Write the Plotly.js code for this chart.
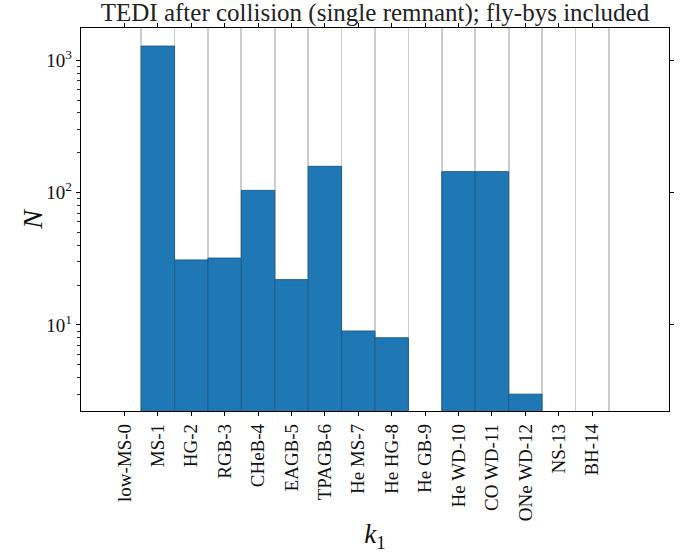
<!DOCTYPE html>
<html>
<head>
<meta charset="utf-8">
<script src="https://cdn.plot.ly/plotly-3.0.1.min.js"></script>
<style>html,body{margin:0;padding:0;background:#fff;}</style>
</head>
<body>
<div id="chart" style="width:695px;height:556px;"></div>
<script>
const categories = [0,1,2,3,4,5,6,7,8,9,10,11,12,13,14];
const tickLabels = ["low-MS-0","MS-1","HG-2","RGB-3","CHeB-4","EAGB-5","TPAGB-6","He MS-7","He HG-8","He GB-9","He WD-10","CO WD-11","ONe WD-12","NS-13","BH-14"];
const counts = [0,1280,31,32,104,22,158,9,8,0,144,144,3,0,0];
const binEdges = [0.5,1.5,2.5,3.5,4.5,5.5,6.5,7.5,8.5,9.5,10.5,11.5,12.5,13.5,14.5];

const minorY = [];
[1,10,100,1000].forEach(d => { for (let k = 2; k <= 9; k++) minorY.push(d*k); });

const FONT = "Liberation Serif, DejaVu Serif, serif";

const trace = {
  type: 'bar',
  x: categories,
  y: counts,
  width: 1,
  marker: {color: '#1f77b4', line: {color: '#1b5e8c', width: 1}},
  hoverinfo: 'x+y'
};
// invisible trace to carry the right-hand mirrored axis
const trace2 = {
  type: 'scatter', x: [categories[0]], y: [10], yaxis: 'y2',
  mode: 'markers', marker: {opacity: 0}, hoverinfo: 'skip', showlegend: false
};

const yRange = [0.35, 3.244];

const layout = {
  width: 695, height: 556,
  margin: {l: 81, r: 26, t: 28, b: 145},
  paper_bgcolor: '#fff', plot_bgcolor: '#fff',
  showlegend: false,
  font: {family: FONT, size: 18, color: '#000'},
  title: {text: 'TEDI after collision (single remnant); fly-bys included',
          font: {family: FONT, size: 25, color: '#222'},
          xref: 'paper', x: 0.5, xanchor: 'center',
          yref: 'container', y: 0.9775, yanchor: 'middle'},
  bargap: 0,
  xaxis: {
    range: [-1.3, 16.3],
    tickmode: 'array', tickvals: categories, ticktext: tickLabels,
    tickangle: -90,
    ticks: 'outside', ticklen: 4, tickwidth: 1, tickcolor: '#000',
    showline: true, linecolor: '#000', linewidth: 1.3, mirror: 'ticks',
    showgrid: false, zeroline: false,
    tickfont: {family: FONT, size: 19, color: '#111'},
    minor: {tickmode: 'array', tickvals: binEdges, ticks: '', showgrid: true,
            gridcolor: '#cccccc', gridwidth: 1.8},
    title: {text: '<i>k</i><sub>1</sub>', font: {family: FONT, size: 27, color: '#111'}, standoff: 4}
  },
  yaxis: {
    type: 'log', range: yRange,
    tickmode: 'array', tickvals: [10,100,1000],
    ticktext: ['10<sup>1</sup>','10<sup>2</sup>','10<sup>3</sup>'],
    ticks: 'outside', ticklen: 4, tickwidth: 1, tickcolor: '#000',
    showline: true, linecolor: '#000', linewidth: 1.3, mirror: true,
    showgrid: false, zeroline: false,
    tickfont: {family: FONT, size: 19, color: '#111'},
    minor: {tickmode: 'array', tickvals: minorY, ticks: 'outside', ticklen: 2.5,
            tickwidth: 0.8, tickcolor: '#000', showgrid: false},
    title: {text: ''}
  },
  yaxis2: {
    type: 'log', range: yRange, overlaying: 'y', side: 'right',
    tickmode: 'array', tickvals: [10,100,1000],
    ticks: 'outside', ticklen: 4, tickwidth: 1, tickcolor: '#000',
    showticklabels: false, showgrid: false, zeroline: false, showline: false
  },
  annotations: [{
    text: '<i>N</i>', textangle: -90, showarrow: false,
    xref: 'paper', yref: 'paper', x: -0.083, y: 0.5,
    xanchor: 'center', yanchor: 'middle',
    font: {family: FONT, size: 28, color: '#111'}
  }]
};

Plotly.newPlot('chart', [trace, trace2], layout, {displayModeBar: false, staticPlot: true});
</script>
</body>
</html>
